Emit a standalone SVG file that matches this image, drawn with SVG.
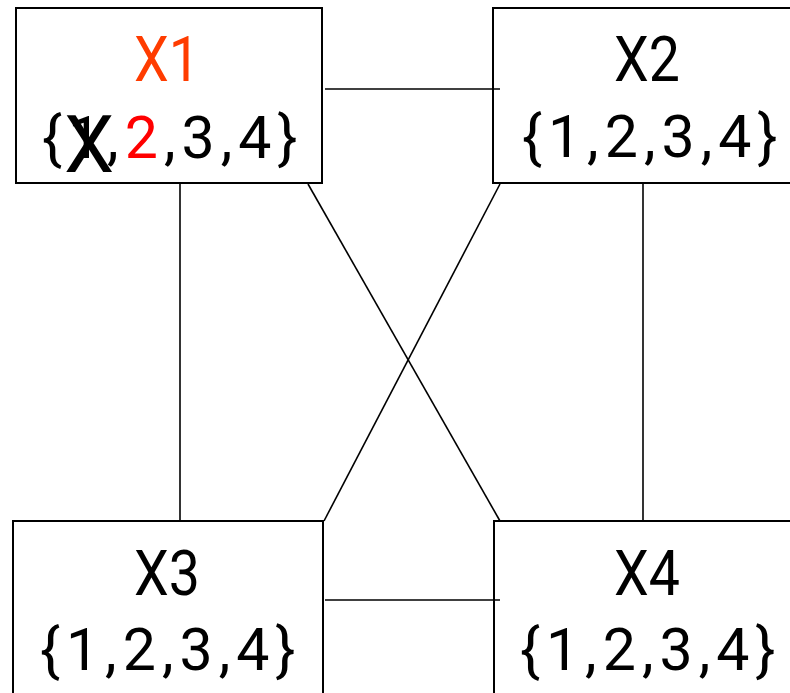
<svg xmlns="http://www.w3.org/2000/svg" width="790" height="693" viewBox="0 0 790 693">
  <style>
    .box { fill: #ffffff; stroke: #000000; stroke-width: 2; }
    .edge { stroke: #000000; stroke-width: 1.6; fill: none; }
    .title { font-family: Roboto, "Liberation Sans", sans-serif; font-size: 63px; fill: #000000; }
    .dom { font-family: Roboto, "Liberation Sans", sans-serif; font-size: 59px; letter-spacing: 6px; fill: #000000; }
    .cross { font-family: Roboto, "Liberation Sans", sans-serif; font-size: 80px; fill: #000000; }
  </style>
  <rect x="0" y="0" width="790" height="693" fill="#ffffff"/>
  <g id="node-x1">
    <rect class="box" x="16" y="8" width="306" height="175"/>
    <text class="title" transform="translate(134,81) scale(0.88,1)" x="0" y="0" style="fill:#ff3c00">X1</text>
    <text class="dom" x="42" y="158">{1,<tspan style="fill:#ff0000">2</tspan>,3,4}</text>
    <text class="cross" x="64" y="172">X</text>
  </g>
  <g id="node-x2">
    <rect class="box" x="493" y="8" width="320" height="175"/>
    <text class="title" transform="translate(614,81) scale(0.88,1)" x="0" y="0">X2</text>
    <text class="dom" x="522" y="157">{1,2,3,4}</text>
  </g>
  <g id="node-x3">
    <rect class="box" x="13" y="521" width="310" height="190"/>
    <text class="title" transform="translate(134,595) scale(0.88,1)" x="0" y="0">X3</text>
    <text class="dom" x="40" y="670">{1,2,3,4}</text>
  </g>
  <g id="node-x4">
    <rect class="box" x="494" y="521" width="320" height="190"/>
    <text class="title" transform="translate(614,595) scale(0.88,1)" x="0" y="0">X4</text>
    <text class="dom" x="520" y="670">{1,2,3,4}</text>
  </g>
  <g id="connectors">
    <line class="edge" x1="325" y1="89" x2="500" y2="89"/>
    <line class="edge" x1="325" y1="600" x2="500" y2="600"/>
    <line class="edge" x1="180" y1="184" x2="180" y2="520"/>
    <line class="edge" x1="643" y1="184" x2="643" y2="520"/>
    <line class="edge" x1="308" y1="184" x2="500" y2="521"/>
    <line class="edge" x1="500" y1="184" x2="324" y2="521"/>
  </g>
</svg>
